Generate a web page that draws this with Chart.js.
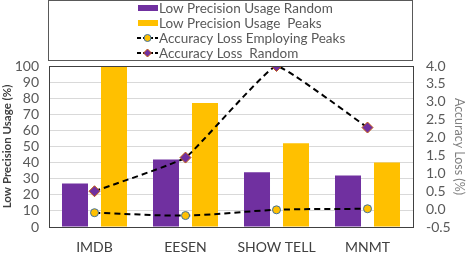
<!DOCTYPE html>
<html>
<head>
<meta charset="utf-8">
<script src="https://cdn.jsdelivr.net/npm/chart.js@4"></script>
<style>
  html, body { margin: 0; padding: 0; background: #fff; }
  #wrap { position: relative; width: 467px; height: 254px; }
</style>
</head>
<body>
<div id="wrap"><canvas id="usageChart" width="467" height="254"></canvas></div>
<script>
// data
const categories = ['IMDB', 'EESEN', 'SHOW TELL', 'MNMT'];
const usageRandom = [27, 42, 34, 32];
const usagePeaks = [100, 77, 52, 40];
const lossPeaks = [-0.1, -0.18, -0.02, 0.01];
const lossRandom = [0.5, 1.44, 4.0, 2.28];
const usageAxis = { min: 0, max: 100, step: 10 };
const lossAxis = { min: -0.5, max: 4.0, step: 0.5 };

const FONT = "Lato, 'Open Sans', sans-serif";
const PURPLE = '#7030A0';
const GOLD = '#FFC000';

// legend box drawn on the canvas, one entry per row
const boxLegend = {
  id: 'boxLegend',
  afterDraw(chart) {
    const ctx = chart.ctx;
    ctx.save();
    ctx.strokeStyle = '#595959';
    ctx.lineWidth = 1;
    ctx.strokeRect(48.5, 0.5, 364, 60);
    ctx.font = '13.5px ' + FONT;
    ctx.textBaseline = 'middle';
    chart.data.datasets.forEach((ds, i) => {
      const y = 8 + i * 15;
      if (ds.type === 'bar') {
        ctx.fillStyle = ds.backgroundColor;
        ctx.fillRect(138, y - 3, 20, 6);
      } else {
        ctx.strokeStyle = '#000';
        ctx.lineWidth = 2;
        ctx.setLineDash([4, 2]);
        ctx.beginPath();
        ctx.moveTo(137, y);
        ctx.lineTo(158, y);
        ctx.stroke();
        ctx.setLineDash([]);
        ctx.lineWidth = 1;
        ctx.fillStyle = ds.pointBackgroundColor;
        ctx.strokeStyle = ds.pointBorderColor;
        ctx.beginPath();
        if (ds.pointStyle === 'rectRot') {
          ctx.moveTo(147.5, y - 4); ctx.lineTo(151.5, y); ctx.lineTo(147.5, y + 4); ctx.lineTo(143.5, y);
          ctx.closePath();
        } else {
          ctx.arc(147.5, y, 3.5, 0, Math.PI * 2);
        }
        ctx.fill();
        ctx.stroke();
      }
      ctx.fillStyle = '#595959';
      ctx.fillText(ds.label, 159, y + 0.5);
    });
    ctx.restore();
  }
};

// outline of the plot area
const plotFrame = {
  id: 'plotFrame',
  afterDatasetsDraw(chart) {
    const a = chart.chartArea;
    const ctx = chart.ctx;
    ctx.save();
    ctx.strokeStyle = '#404040';
    ctx.lineWidth = 1;
    ctx.strokeRect(Math.round(a.left) + 0.5, Math.round(a.top) + 0.5, Math.round(a.right - a.left), Math.round(a.bottom - a.top));
    ctx.restore();
  }
};

Chart.defaults.font.family = FONT;
Chart.defaults.color = '#595959';

new Chart(document.getElementById('usageChart'), {
  data: {
    labels: categories,
    datasets: [{
      type: 'bar',
      label: 'Low Precision Usage Random',
      data: usageRandom,
      backgroundColor: PURPLE,
      yAxisID: 'y',
      order: 2,
      categoryPercentage: 0.857,
      barPercentage: 0.667
    }, {
      type: 'bar',
      label: 'Low Precision Usage  Peaks',
      data: usagePeaks,
      backgroundColor: GOLD,
      yAxisID: 'y',
      order: 2,
      categoryPercentage: 0.857,
      barPercentage: 0.667
    }, {
      type: 'line',
      label: 'Accuracy Loss Employing Peaks',
      data: lossPeaks,
      yAxisID: 'y1',
      borderColor: '#000',
      borderWidth: 2,
      borderDash: [6, 4],
      pointStyle: 'circle',
      pointRadius: 4,
      pointBackgroundColor: GOLD,
      pointBorderColor: '#41719C',
      pointBorderWidth: 1,
      tension: 0.3,
      order: 1
    }, {
      type: 'line',
      label: 'Accuracy Loss  Random',
      data: lossRandom,
      yAxisID: 'y1',
      borderColor: '#000',
      borderWidth: 2,
      borderDash: [6, 4],
      pointStyle: 'rectRot',
      pointRadius: 5.5,
      pointBackgroundColor: PURPLE,
      pointBorderColor: '#C55A11',
      pointBorderWidth: 1,
      tension: 0.1,
      order: 0
    }]
  },
  options: {
    responsive: false,
    animation: false,
    layout: { padding: { top: 66, left: 0, right: 0, bottom: 0 } },
    plugins: {
      legend: { display: false },
      tooltip: { enabled: false }
    },
    scales: {
      x: {
        grid: { display: false },
        border: { color: '#404040' },
        ticks: { color: '#404040', font: { size: 14 }, padding: 4 },
        afterFit: s => { s.height = 27; }
      },
      y: {
        position: 'left',
        min: usageAxis.min,
        max: usageAxis.max,
        grid: { color: '#d9d9d9', drawTicks: false },
        border: { color: '#404040' },
        ticks: { stepSize: usageAxis.step, autoSkip: false, font: { size: 14 }, padding: 10 },
        title: {
          display: true,
          text: 'Low Precision Usage (%)',
          color: '#404040',
          font: { size: 11.5, weight: 'bold' },
          padding: 0
        },
        afterFit: s => { s.width = 49; }
      },
      y1: {
        position: 'right',
        min: lossAxis.min,
        max: lossAxis.max,
        grid: { display: false, drawTicks: false },
        border: { color: '#404040' },
        ticks: {
          stepSize: lossAxis.step,
          autoSkip: false,
          font: { size: 14 },
          padding: 13,
          callback: v => v.toFixed(1)
        },
        title: {
          display: true,
          text: 'Accuracy Loss (%)',
          color: '#7f7f7f',
          font: { size: 12.5 },
          padding: 0
        },
        afterFit: s => { s.width = 54; }
      }
    }
  },
  plugins: [boxLegend, plotFrame]
});
</script>
</body>
</html>
